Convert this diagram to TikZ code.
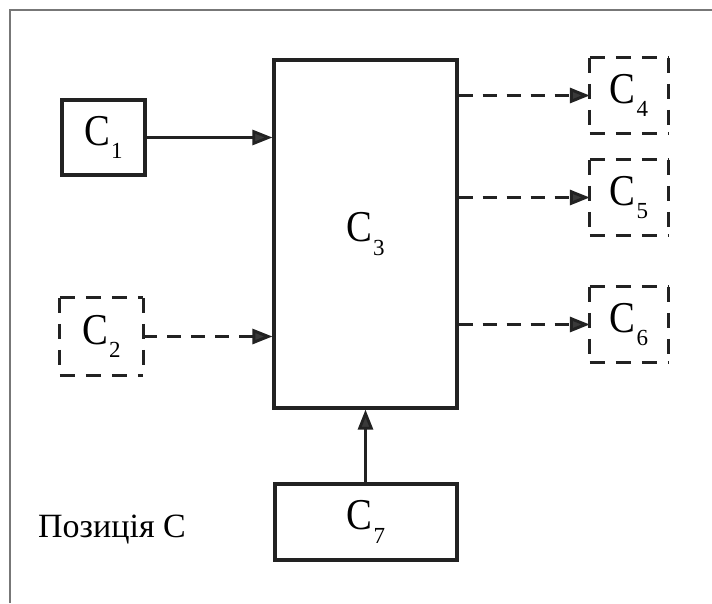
\documentclass[tikz,border=0pt]{standalone}
\usepackage{fontspec}
\setmainfont{Liberation Serif}
\usetikzlibrary{arrows.meta}
\newcommand{\Clab}[1]{\scalebox{0.88}[1]{C}\kern1pt\raisebox{-0.3em}{\fontsize{23}{23}\selectfont #1}}
\definecolor{ink}{HTML}{222222}
\definecolor{tip}{HTML}{3A3A3A}
\definecolor{framec}{HTML}{777777}
\tikzset{
  solidbox/.style={draw=ink, line width=3.2pt, inner sep=0pt, font=\fontsize{44}{46}\selectfont},
  hidbox/.style={draw=none, inner sep=0pt, font=\fontsize{44}{46}\selectfont},
  dashside/.style={draw=ink, line width=3.2pt, dash pattern=on 15pt off 11pt},
  conn/.style={draw=ink, line width=2.8pt, -{Triangle[length=20pt,width=15pt,fill=tip]}},
  dconn/.style={conn, line width=3pt, dash pattern=on 14pt off 10pt},
}
\begin{document}
\begin{tikzpicture}[x=1pt,y=-1pt]
\useasboundingbox (0,0) rectangle (712,603);
\fill[white] (0,0) rectangle (712,603);
\draw[framec, line width=1.5pt] (10,603) -- (10,10) -- (712,10);
% boxes
\node[solidbox, minimum width=183pt, minimum height=348pt] (c3) at (365.5,234) {\Clab{3}};
\node[solidbox, minimum width=83pt, minimum height=75pt] (c1) at (103.5,137.5) {\Clab{1}};
\node[solidbox, minimum width=182pt, minimum height=76pt] (c7) at (366,522) {\Clab{7}};
\node[hidbox, minimum width=83pt, minimum height=77pt] (c2) at (101.5,336.5) {\Clab{2}};
\node[hidbox, minimum width=78pt, minimum height=75pt] (c4) at (629,95.5) {\Clab{4}};
\node[hidbox, minimum width=78pt, minimum height=75pt] (c5) at (629,197.5) {\Clab{5}};
\node[hidbox, minimum width=78pt, minimum height=75pt] (c6) at (629,324.5) {\Clab{6}};
\foreach \n in {c2,c4,c5,c6}{
  \draw[dashside] (\n.north west) -- (\n.north east);
  \draw[dashside] (\n.north east) -- (\n.south east);
  \draw[dashside] (\n.south west) -- (\n.south east);
  \draw[dashside] (\n.north west) -- (\n.south west);
}
% caption
\node[font=\fontsize{34}{36}\selectfont, anchor=west, inner sep=0pt] (cap) at (38,530) {Позиція C};
% connectors
\draw[conn] (c1.east) -- (c1.east -| c3.west);
\draw[dconn] (c2.east) -- (c2.east -| c3.west);
\draw[dconn] (c3.east |- c4.west) -- (c4.west);
\draw[dconn] (c3.east |- c5.west) -- (c5.west);
\draw[dconn] (c3.east |- c6.west) -- (c6.west);
\draw[conn] (c7.north -| c3.south) -- (c3.south);
\end{tikzpicture}
\end{document}
